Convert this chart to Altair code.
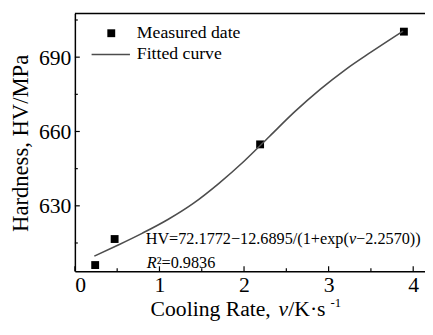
import altair as alt
import pandas as pd

# Measured data
meas_v = [0.24, 0.47, 2.19, 3.89]
meas_hv = [606.1, 616.6, 654.8, 700.3]

# Fitted curve
fit_v = [0.23, 0.5, 0.8, 1.1, 1.4, 1.7, 2.0, 2.3, 2.6, 2.9, 3.2, 3.5, 3.88]
fit_hv = [609.7, 614.0, 619.0, 624.5, 631.0, 639.0, 648.0, 658.0, 668.0, 677.0, 685.0, 692.0, 700.5]

x_major = [0, 1, 2, 3, 4]
x_minor = [0.5, 1.5, 2.5, 3.5]
y_major = [630, 660, 690]
y_minor = [615, 645, 675, 705]

legend_labels = ["Measured date", "Fitted curve"]
formula_parts = ["HV=72.1772\u221212.6895/(1+exp(", "v", "\u22122.2570))"]
r2_parts = ["R", "\u00b2=0.9836"]
x_title_parts = ["Cooling Rate, ", "v", "/K\u00b7s", "-1"]
y_title = "Hardness, HV/MPa"

W, H = 356, 262
FONT = "Liberation Serif"
xs = alt.Scale(domain=[0, W / 86.0], nice=False, zero=False)
ys = alt.Scale(domain=[603.6, 707.6], nice=False, zero=False)

ax_x = alt.Axis(values=x_major, title=None, ticks=False, grid=False, domainColor="black", domainWidth=1.5,
                labelFont=FONT, labelFontSize=22, labelColor="black", labelPadding=4, format="d")
ax_y = alt.Axis(values=y_major, title=None, ticks=False, grid=False, domainColor="black", domainWidth=1.5,
                labelFont=FONT, labelFontSize=22, labelColor="black", labelPadding=4, format="d")

meas = pd.DataFrame({"v": meas_v, "hv": meas_hv})
fit = pd.DataFrame({"v": fit_v, "hv": fit_hv})
one = pd.DataFrame({"a": [0]})

def X(f):
    return alt.X(f, scale=xs, axis=ax_x)

def Y(f):
    return alt.Y(f, scale=ys, axis=ax_y)

curve = alt.Chart(fit).mark_line(color="#4d4d4d", strokeWidth=1.6, interpolate="monotone").encode(
    x=X("v:Q"), y=Y("hv:Q"))

points = alt.Chart(meas).mark_square(size=64, color="black", opacity=1).encode(
    x=X("v:Q"), y=Y("hv:Q"))

def yticks(vals, length):
    return alt.Chart(pd.DataFrame({"t": vals})).mark_rule(color="black", strokeWidth=1.2).encode(
        y=Y("t:Q"), x=alt.value(0), x2=alt.value(length))

def xticks(vals, length):
    return alt.Chart(pd.DataFrame({"t": vals})).mark_rule(color="black", strokeWidth=1.2).encode(
        x=X("t:Q"), y=alt.value(H), y2=alt.value(H - length))

top_border = alt.Chart(one).mark_rule(color="black", strokeWidth=1.5).encode(
    x=alt.value(0), x2=alt.value(W), y=alt.value(0))

# Legend
leg_sq = alt.Chart(one).mark_square(size=64, color="black", opacity=1).encode(
    x=alt.value(37), y=alt.value(20))
leg_line = alt.Chart(one).mark_rule(color="#4d4d4d", strokeWidth=1.6).encode(
    x=alt.value(17), x2=alt.value(56), y=alt.value(41.7))
leg_t1 = alt.Chart(one).mark_text(text=legend_labels[0], font=FONT, fontSize=18, align="left",
                                  baseline="middle", color="black").encode(x=alt.value(63), y=alt.value(20))
leg_t2 = alt.Chart(one).mark_text(text=legend_labels[1], font=FONT, fontSize=18, align="left",
                                  baseline="middle", color="black").encode(x=alt.value(63), y=alt.value(41.7))

# Formula annotation (data coordinates)
def ann(txt, xv, yv, size=16.5, style="normal"):
    return alt.Chart(pd.DataFrame({"x": [xv], "y": [yv]})).mark_text(
        text=txt, font=FONT, fontSize=size, fontStyle=style, align="left", baseline="middle", color="black"
    ).encode(x=X("x:Q"), y=Y("y:Q"))

f1 = ann(formula_parts[0], 0.837, 616.6)
f2 = ann(formula_parts[1], 3.240, 616.6, style="italic")
f3 = ann(formula_parts[2], 3.325, 616.6)
r1 = ann(r2_parts[0], 0.85, 606.9, style="italic")
r2 = ann(r2_parts[1], 0.967, 606.9)

# Axis titles
def ptext(txt, px, py, size=22, style="normal", baseline="alphabetic", align="left", angle=0):
    return alt.Chart(one).mark_text(text=txt, font=FONT, fontSize=size, fontStyle=style, align=align,
                                    baseline=baseline, angle=angle, color="black").encode(
        x=alt.value(px), y=alt.value(py))

TB = 319 - 11
xt1 = ptext(x_title_parts[0], 153 - 76, TB)
xt2 = ptext(x_title_parts[1], 283 - 76, TB, style="italic")
xt3 = ptext(x_title_parts[2], 293 - 76, TB)
xt4 = ptext(x_title_parts[3], 336 - 76, TB - 10, size=13)
yt = ptext(y_title, 21 - 76, 143 - 11, size=23, baseline="middle", align="center", angle=270)

chart = alt.layer(
    points, curve,
    yticks(y_major, 5), yticks(y_minor, 3), xticks(x_major, 5), xticks(x_minor, 3),
    top_border, leg_sq, leg_line, leg_t1, leg_t2,
    f1, f2, f3, r1, r2, xt1, xt2, xt3, xt4, yt,
).properties(
    width=W, height=H,
    padding={"left": 68, "top": 3, "right": 0, "bottom": 51},
    autosize=alt.AutoSizeParams(type="none"),
).configure_view(stroke=None)

chart.save("out.html", embed_options={"renderer": "svg", "actions": False})
